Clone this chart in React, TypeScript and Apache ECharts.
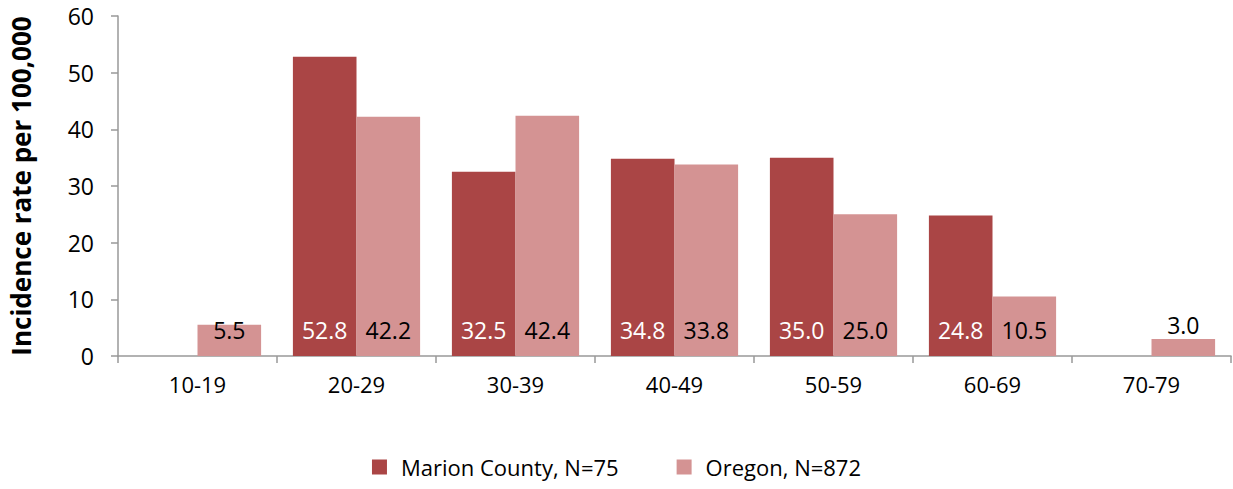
import React, { useEffect, useRef } from "react";
import * as echarts from "echarts";

const categories = ["10-19", "20-29", "30-39", "40-49", "50-59", "60-69", "70-79"];
const marion: (number | null)[] = [null, 52.8, 32.5, 34.8, 35.0, 24.8, null];
const oregon: number[] = [5.5, 42.2, 42.4, 33.8, 25.0, 10.5, 3.0];
const yTicks = { min: 0, max: 60, interval: 10 };

export default function App() {
  const ref = useRef<HTMLDivElement>(null);
  useEffect(() => {
    if (!ref.current) return;
    const chart = echarts.init(ref.current, null, { renderer: "svg" });
    const font = "'Open Sans', 'Noto Sans', sans-serif";
    chart.setOption({
      animation: false,
      textStyle: { fontFamily: font },
      grid: { left: 115, right: 2, top: 16, bottom: 133, containLabel: false },
      legend: {
        bottom: 6,
        left: "center",
        itemWidth: 15,
        itemHeight: 15,
        itemGap: 58,
        icon: "rect",
        textStyle: { fontSize: 22, color: "#000", fontFamily: font, padding: [0, 0, 0, 9] },
        data: ["Marion County, N=75", "Oregon, N=872"],
      },
      xAxis: {
        type: "category",
        data: categories,
        axisLine: { lineStyle: { color: "#999", width: 1.5 } },
        axisTick: { show: true, length: 7, lineStyle: { color: "#999", width: 1.5 } },
        axisLabel: { fontSize: 22, color: "#000", margin: 17, fontFamily: font },
      },
      yAxis: {
        type: "value",
        min: yTicks.min,
        max: yTicks.max,
        interval: yTicks.interval,
        name: "Incidence rate per 100,000",
        nameLocation: "middle",
        nameGap: 84,
        nameTextStyle: { fontSize: 26, fontWeight: "bold", color: "#000", fontFamily: font },
        splitLine: { show: false },
        axisLine: { show: true, lineStyle: { color: "#999", width: 1.5 } },
        axisTick: { show: true, length: 7, lineStyle: { color: "#999", width: 1.5 } },
        axisLabel: { fontSize: 23, color: "#000", margin: 24, fontFamily: font },
      },
      series: [
        {
          name: "Marion County, N=75",
          type: "bar",
          data: marion,
          barGap: "0%",
          barCategoryGap: "20%",
          itemStyle: { color: "#AA4545" },
          label: {
            show: true,
            position: "insideBottom",
            distance: 15,
            color: "#fff",
            fontSize: 23,
            fontFamily: font,
            formatter: (p: any) => Number(p.value).toFixed(1),
          },
        },
        {
          name: "Oregon, N=872",
          type: "bar",
          data: oregon.map((v) =>
            v < 5 ? { value: v, label: { position: "top", distance: 3 } } : v
          ),
          barGap: "0%",
          barCategoryGap: "20%",
          itemStyle: { color: "#D49393" },
          label: {
            show: true,
            position: "insideBottom",
            distance: 15,
            color: "#000",
            fontSize: 23,
            fontFamily: font,
            formatter: (p: any) => Number(p.value).toFixed(1),
          },
        },
      ],
    });
    return () => chart.dispose();
  }, []);
  return (
    <div
      ref={ref}
      style={{ position: "fixed", left: 0, top: 0, width: 1233, height: 489, background: "#fff" }}
    />
  );
}
